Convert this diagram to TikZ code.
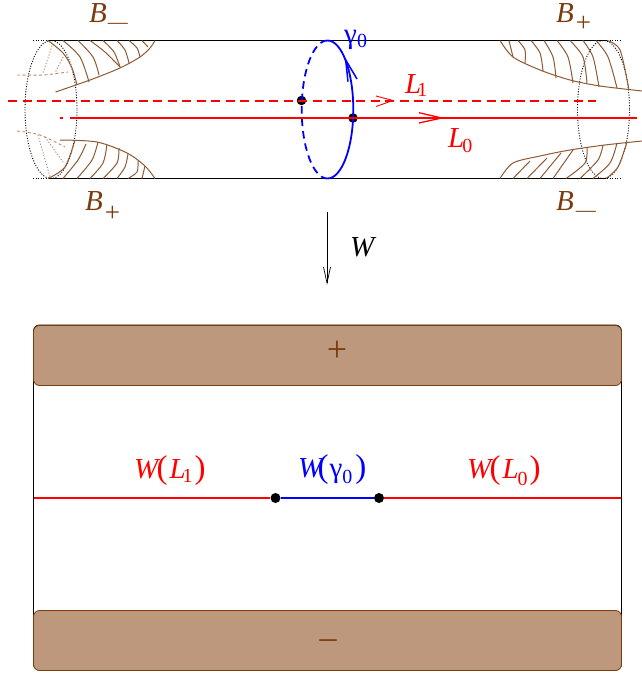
\documentclass[tikz,border=0pt]{standalone}
\usepackage{fontspec}
\setmainfont{Liberation Serif}
\usetikzlibrary{calc}
\definecolor{bn}{RGB}{122,60,15}
\definecolor{bnfill}{RGB}{190,152,124}
\definecolor{bnlight}{RGB}{185,140,105}
\definecolor{rd}{RGB}{255,0,0}
\definecolor{blu}{RGB}{0,0,255}
\newcommand{\subt}[2]{\raisebox{#1}{\fontsize{20}{20}\selectfont #2}}
\newcommand{\bigp}[1]{\textup{\fontsize{33}{33}\selectfont #1}}
\tikzset{x=1pt,y=-1pt,
  hatch/.style={draw=bn!85!white,line width=1pt},
  backdash/.style={draw=bnlight,line width=0.9pt,dash pattern=on 3pt off 2.5pt},
  backdot/.style={draw=bnlight,line width=0.9pt,dash pattern=on 1.2pt off 1.8pt},
  tube/.style={draw=black,line width=1pt},
  rim/.style={draw=black,line width=0.9pt,dash pattern=on 1pt off 1.6pt},
  redline/.style={draw=rd,line width=1.8pt},
  blueline/.style={draw=blu,line width=1.8pt},
  dotnode/.style={circle,fill=black,inner sep=0pt,minimum size=9.5pt},
  label/.style={inner sep=0pt,anchor=base west,font=\fontsize{29}{29}\selectfont\itshape},
  brownbox/.style={draw=bn,fill=bnfill,line width=0.8pt,rounded corners=6pt},
}
\begin{document}
\begin{tikzpicture}
\useasboundingbox (0,0) rectangle (642,677);
% tube
\coordinate (tl) at (48,40.5); \coordinate (tr) at (607,40.5);
\coordinate (btl) at (48,178.5); \coordinate (btr) at (607,178.5);
\coordinate (tl0) at (33,40.5); \coordinate (btl0) at (33,178.5);
\coordinate (tr0) at (622,40.5); \coordinate (btr0) at (622,178.5);
\draw[tube] (tl)--(tr); \draw[tube] (btl)--(btr);
\draw[rim] (tl0)--(tl); \draw[rim] (btl0)--(btl);
\draw[rim] (tr)--(tr0); \draw[rim] (btr)--(btr0);
\draw[rim] (51,109.5) ellipse [x radius=26,y radius=69];
\draw[rim] (603.5,109.5) ellipse [x radius=26,y radius=69];
% brown top-left
\draw[hatch] plot[smooth] coordinates {(55.5,92)(90,80)(120,68)(140,57)(150,48)(155,40.5)};
\foreach \c in {{(48,40.5)(63,53)(72,68)(77,85)},{(63,40.5)(80,57)(89,82)},{(78,40.5)(93,57)(99,75)},{(90,40.5)(105,52)(120,67)},{(103,40.5)(114,52)(120,67)},{(117,40.5)(125,50)(129,63)},{(129,40.5)(137,48)(140,57)},{(142,40.5)(148,47)}}
  \draw[hatch] plot[smooth] coordinates {\c};
\draw[backdash] plot[smooth] coordinates {(17,75)(43,75)(68,72)};
\draw[backdot] plot[smooth] coordinates {(53,43)(43,73)};
\draw[backdot] plot[smooth] coordinates {(63,57)(55,73)};
% brown bottom-left
\draw[hatch] plot[smooth] coordinates {(60,140)(97,142)(127,153)(145,166)(155,178.5)};
\foreach \c in {{(48,178.5)(65,167)(75,140)},{(63,178.5)(78,160)(86,144)},{(77,178.5)(92,160)(98,142)},{(90,178.5)(103,163)(107,144)},{(103,178.5)(117,163)(119,148)},{(117,178.5)(125,167)(128,154)},{(128,178.5)(137,172)(138,161)},{(142,178.5)(145,166)}}
  \draw[hatch] plot[smooth] coordinates {\c};
\draw[backdash] plot[smooth] coordinates {(17,131)(40,135)(65,147)};
\draw[backdot] (38,135)--(50,177);
\draw[backdot] (45,137)--(63,162);
% brown top-right
\draw[hatch] plot[smooth] coordinates {(500,40.5)(513,57)(540,70)(570,80)(600,86)(642,91)};
\foreach \c in {{(509,40.5)(513,57)},{(518,40.5)(525,50)(525,63)},{(531,40.5)(540,53)(543,71)},{(544,40.5)(553,57)(556,78)},{(557,40.5)(568,57)(573,83)},{(570,40.5)(583,57)(587,83)},{(583,40.5)(593,57)(599,87)},{(596,40.5)(608,57)(617,88)},{(607,40.5)(620,50)(629,90)}}
  \draw[hatch] plot[smooth] coordinates {\c};
% brown bottom-right
\draw[hatch] plot[smooth] coordinates {(500,178.5)(513,163)(540,156)(570,150)(605,145)(642,141)};
\foreach \c in {{(513,178.5)(530,161)},{(527,178.5)(547,158)},{(540,178.5)(561,153)},{(553,178.5)(573,150)},{(566,178.5)(585,163)(587,147)},{(580,178.5)(598,160)(603,145)},{(593,178.5)(610,163)(617,143)},{(606,178.5)(618,167)(627,142)}}
  \draw[hatch] plot[smooth] coordinates {\c};
% blue ellipse and dots
\node[dotnode] (d1) at (301.5,100.5) {};
\node[dotnode] (d0) at (353,118) {};
\coordinate (etop) at (327.5,40.5); \coordinate (ebot) at (327.5,178.5);
\draw[blueline] (ebot) arc[start angle=90,end angle=-90,x radius=25.8,y radius=69];
\draw[blueline,dash pattern=on 7.5pt off 5pt] (etop) arc[start angle=-90,end angle=-270,x radius=25.8,y radius=69];
\draw[blueline,line width=1.5pt,line join=miter] (348,81.7)--(345.7,60)--(357,79);
% red lines
\coordinate (l1a) at (8,101); \coordinate (l1b) at (596,101);
\coordinate (l0a) at (70,118); \coordinate (l0b) at (637,118);
\draw[redline,dash pattern=on 9pt off 5.5pt] (l1a)--(l1b);
\draw[redline] (l0a)--(l0b);
\draw[redline] (60,118)--(62.5,118);
\draw[draw=rd,line width=0.9pt] (376,96)--(393,100.5)--(376,106.5);
\draw[draw=rd,line width=1.3pt] (419,112.7)--(441.7,118)--(419,123);
% labels top
\node[label,text=bn] (bm1) at (89,23) {B\subt{-6pt}{\hspace{1pt}\textup{—}}};
\node[label,text=bn] (bp1) at (85,210) {B\subt{-11pt}{\hspace{2pt}\textup{\fontsize{27}{27}\selectfont +}}};
\node[label,text=bn] (bp2) at (556,23) {B\subt{-9pt}{\hspace{2pt}\textup{\fontsize{27}{27}\selectfont +}}};
\node[label,text=bn] (bm2) at (556,210) {B\subt{-6pt}{\hspace{2pt}\textup{—}}};
\node[label,text=blu] (g0) at (344,44) {\textup{γ}\subt{-4pt}{\textup{0}}};
\node[label,text=rd] (L1) at (405,93) {L\subt{-3pt}{\hspace{-4pt}\textup{1}}};
\node[label,text=rd] (L0) at (448,147) {L\subt{-5pt}{\hspace{-2pt}\textup{0}}};
\node[label,text=black] (W) at (350,256) {W};
\coordinate (wa) at (327,212); \coordinate (wb) at (327,283);
\draw[black,line width=0.7pt] (wa)--(wb);
\draw[black,line width=0.7pt] (323.5,267)--(327,283)--(330.5,267);
% bottom panel
\draw[draw=black,line width=0.8pt,rounded corners=6pt] (33.5,325) rectangle (621.5,670);
\node[brownbox,minimum width=588pt,minimum height=60pt,inner sep=0pt] (plus) at (327.5,355.5) {};
\node[brownbox,minimum width=588pt,minimum height=60pt,inner sep=0pt] (minus) at (327.5,640.5) {};
\node[text=bn,inner sep=0pt,font=\fontsize{36}{36}\selectfont] (ptxt) at (337,351) {+};
\node[text=bn,inner sep=0pt,font=\fontsize{34}{34}\selectfont] (mtxt) at (328,644) {–};
\node[dotnode,minimum size=10pt] (p) at (275.5,498) {};
\node[dotnode,minimum size=10pt] (q) at (379,498) {};
\coordinate (ml) at (34,498); \coordinate (mr) at (621,498);
\draw[redline] (ml)--(p.west);
\draw[redline] (q.east)--(mr);
\draw[blueline] (p.east)--(q.west);
\node[label,text=rd] (wl1) at (134,478) {W\hspace{-4pt}\bigp{(}\hspace{2pt}L\subt{-4pt}{\hspace{-3pt}\textup{1}}\hspace{2pt}\bigp{)}};
\node[label,text=blu] (wg) at (298,477) {W\hspace{-7pt}\bigp{(}\hspace{1pt}\textup{γ}\subt{-6pt}{\textup{0}}\hspace{3pt}\bigp{)}};
\node[label,text=rd] (wl0) at (467,478) {W\hspace{-4pt}\bigp{(}\hspace{2pt}L\subt{-7pt}{\hspace{-1pt}\textup{0}}\hspace{2pt}\bigp{)}};
\end{tikzpicture}
\end{document}
